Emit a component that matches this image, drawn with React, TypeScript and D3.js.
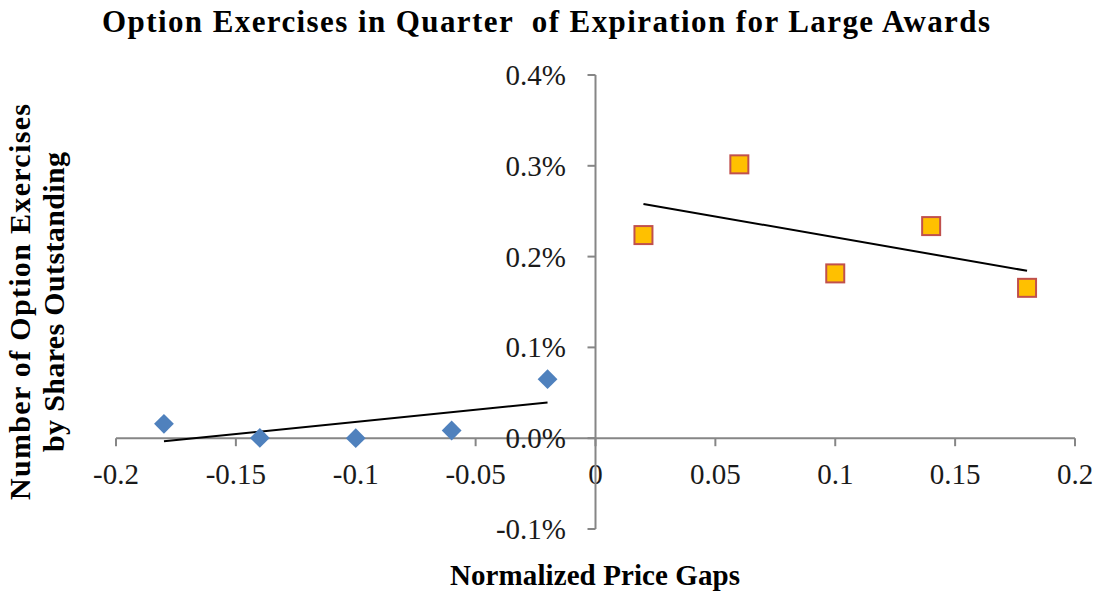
import React from "react";
import * as d3 from "d3";

const leftX = [-0.18, -0.14, -0.1, -0.06, -0.02];
const leftY = [0.000158, 0.000003, 0.0, 0.000085, 0.00065];
const rightX = [0.02, 0.06, 0.1, 0.14, 0.18];
const rightY = [0.002237, 0.003016, 0.001815, 0.002336, 0.001656];
const xTicks = [-0.2, -0.15, -0.1, -0.05, 0, 0.05, 0.1, 0.15, 0.2];
const yTicks = [-0.001, 0, 0.001, 0.002, 0.003, 0.004];

function fit(xs: number[], ys: number[]) {
  const mx = d3.mean(xs)!;
  const my = d3.mean(ys)!;
  let sxy = 0, sxx = 0;
  xs.forEach((x, i) => { sxy += (x - mx) * (ys[i] - my); sxx += (x - mx) * (x - mx); });
  const b = sxy / sxx;
  const a = my - b * mx;
  const x0 = d3.min(xs)!, x1 = d3.max(xs)!;
  return [[x0, a + b * x0], [x1, a + b * x1]];
}

export default function App() {
  const W = 1097, H = 599;
  const x = d3.scaleLinear().domain([-0.2, 0.2]).range([116, 1075]);
  const y = d3.scaleLinear().domain([-0.001, 0.004]).range([529, 75]);
  const fx = (v: number) => (Math.abs(v) < 1e-9 ? "0" : String(+v.toFixed(2)));
  const fy = (v: number) => d3.format(".1f")(v * 100).replace("\u2212", "-") + "%";
  const axisColor = "#868686";
  const serif = "'Liberation Serif', 'DejaVu Serif', serif";
  const line = d3.line<number[]>().x(d => x(d[0])).y(d => y(d[1]));
  const lf = fit(leftX, leftY);
  const rf = fit(rightX, rightY);
  const diamond = d3.symbol().type(d3.symbolSquare).size(196)();
  return (
    <svg width={W} height={H} style={{ position: "absolute", left: 0, top: 0, background: "#fff" }} fontFamily={serif}>
      <text x={102} y={32} fontSize={31} fontWeight="bold" textLength={888} lengthAdjust="spacing" style={{ whiteSpace: "pre" }}>
        {"Option Exercises in Quarter  of Expiration for Large Awards"}
      </text>
      {/* x axis */}
      <line x1={x(-0.2)} x2={x(0.2)} y1={y(0)} y2={y(0)} stroke={axisColor} strokeWidth={2} />
      {xTicks.map(t => (
        <g key={"xt" + t}>
          <line x1={x(t)} x2={x(t)} y1={y(0)} y2={y(0) + 8} stroke={axisColor} strokeWidth={2} />
          <text x={x(t)} y={484} textAnchor="middle" fontSize={29} fill="#1a1a1a">{fx(t)}</text>
        </g>
      ))}
      {/* y axis */}
      <line x1={x(0)} x2={x(0)} y1={y(-0.001)} y2={y(0.004)} stroke={axisColor} strokeWidth={2} />
      {yTicks.map(t => (
        <g key={"yt" + t}>
          <line x1={x(0) - 8} x2={x(0)} y1={y(t)} y2={y(t)} stroke={axisColor} strokeWidth={2} />
          <text x={566} y={y(t) + 10} textAnchor="end" fontSize={29} fill="#1a1a1a">{fy(t)}</text>
        </g>
      ))}
      {/* trendlines */}
      <path d={line(lf)!} fill="none" stroke="#000" strokeWidth={2} />
      <path d={line(rf)!} fill="none" stroke="#000" strokeWidth={2} />
      {/* markers */}
      {leftX.map((v, i) => (
        <path key={"l" + i} d={diamond} transform={`translate(${x(v)},${y(leftY[i])}) rotate(45)`} fill="#4F81BD" />
      ))}
      {rightX.map((v, i) => (
        <rect key={"r" + i} x={x(v) - 9} y={y(rightY[i]) - 9} width={18} height={18} fill="#FFC000" stroke="#C0504D" strokeWidth={2} />
      ))}
      {/* axis titles */}
      <text x={595} y={585} textAnchor="middle" fontSize={29} fontWeight="bold" textLength={290} lengthAdjust="spacing">Normalized Price Gaps</text>
      <g transform="translate(30,302) rotate(-90)">
        <text x={-198} y={0} fontSize={30} fontWeight="bold" textLength={396} lengthAdjust="spacing">Number of Option Exercises</text>
        <text x={-150} y={34} fontSize={30} fontWeight="bold" textLength={300} lengthAdjust="spacing">by Shares Outstanding</text>
      </g>
    </svg>
  );
}
